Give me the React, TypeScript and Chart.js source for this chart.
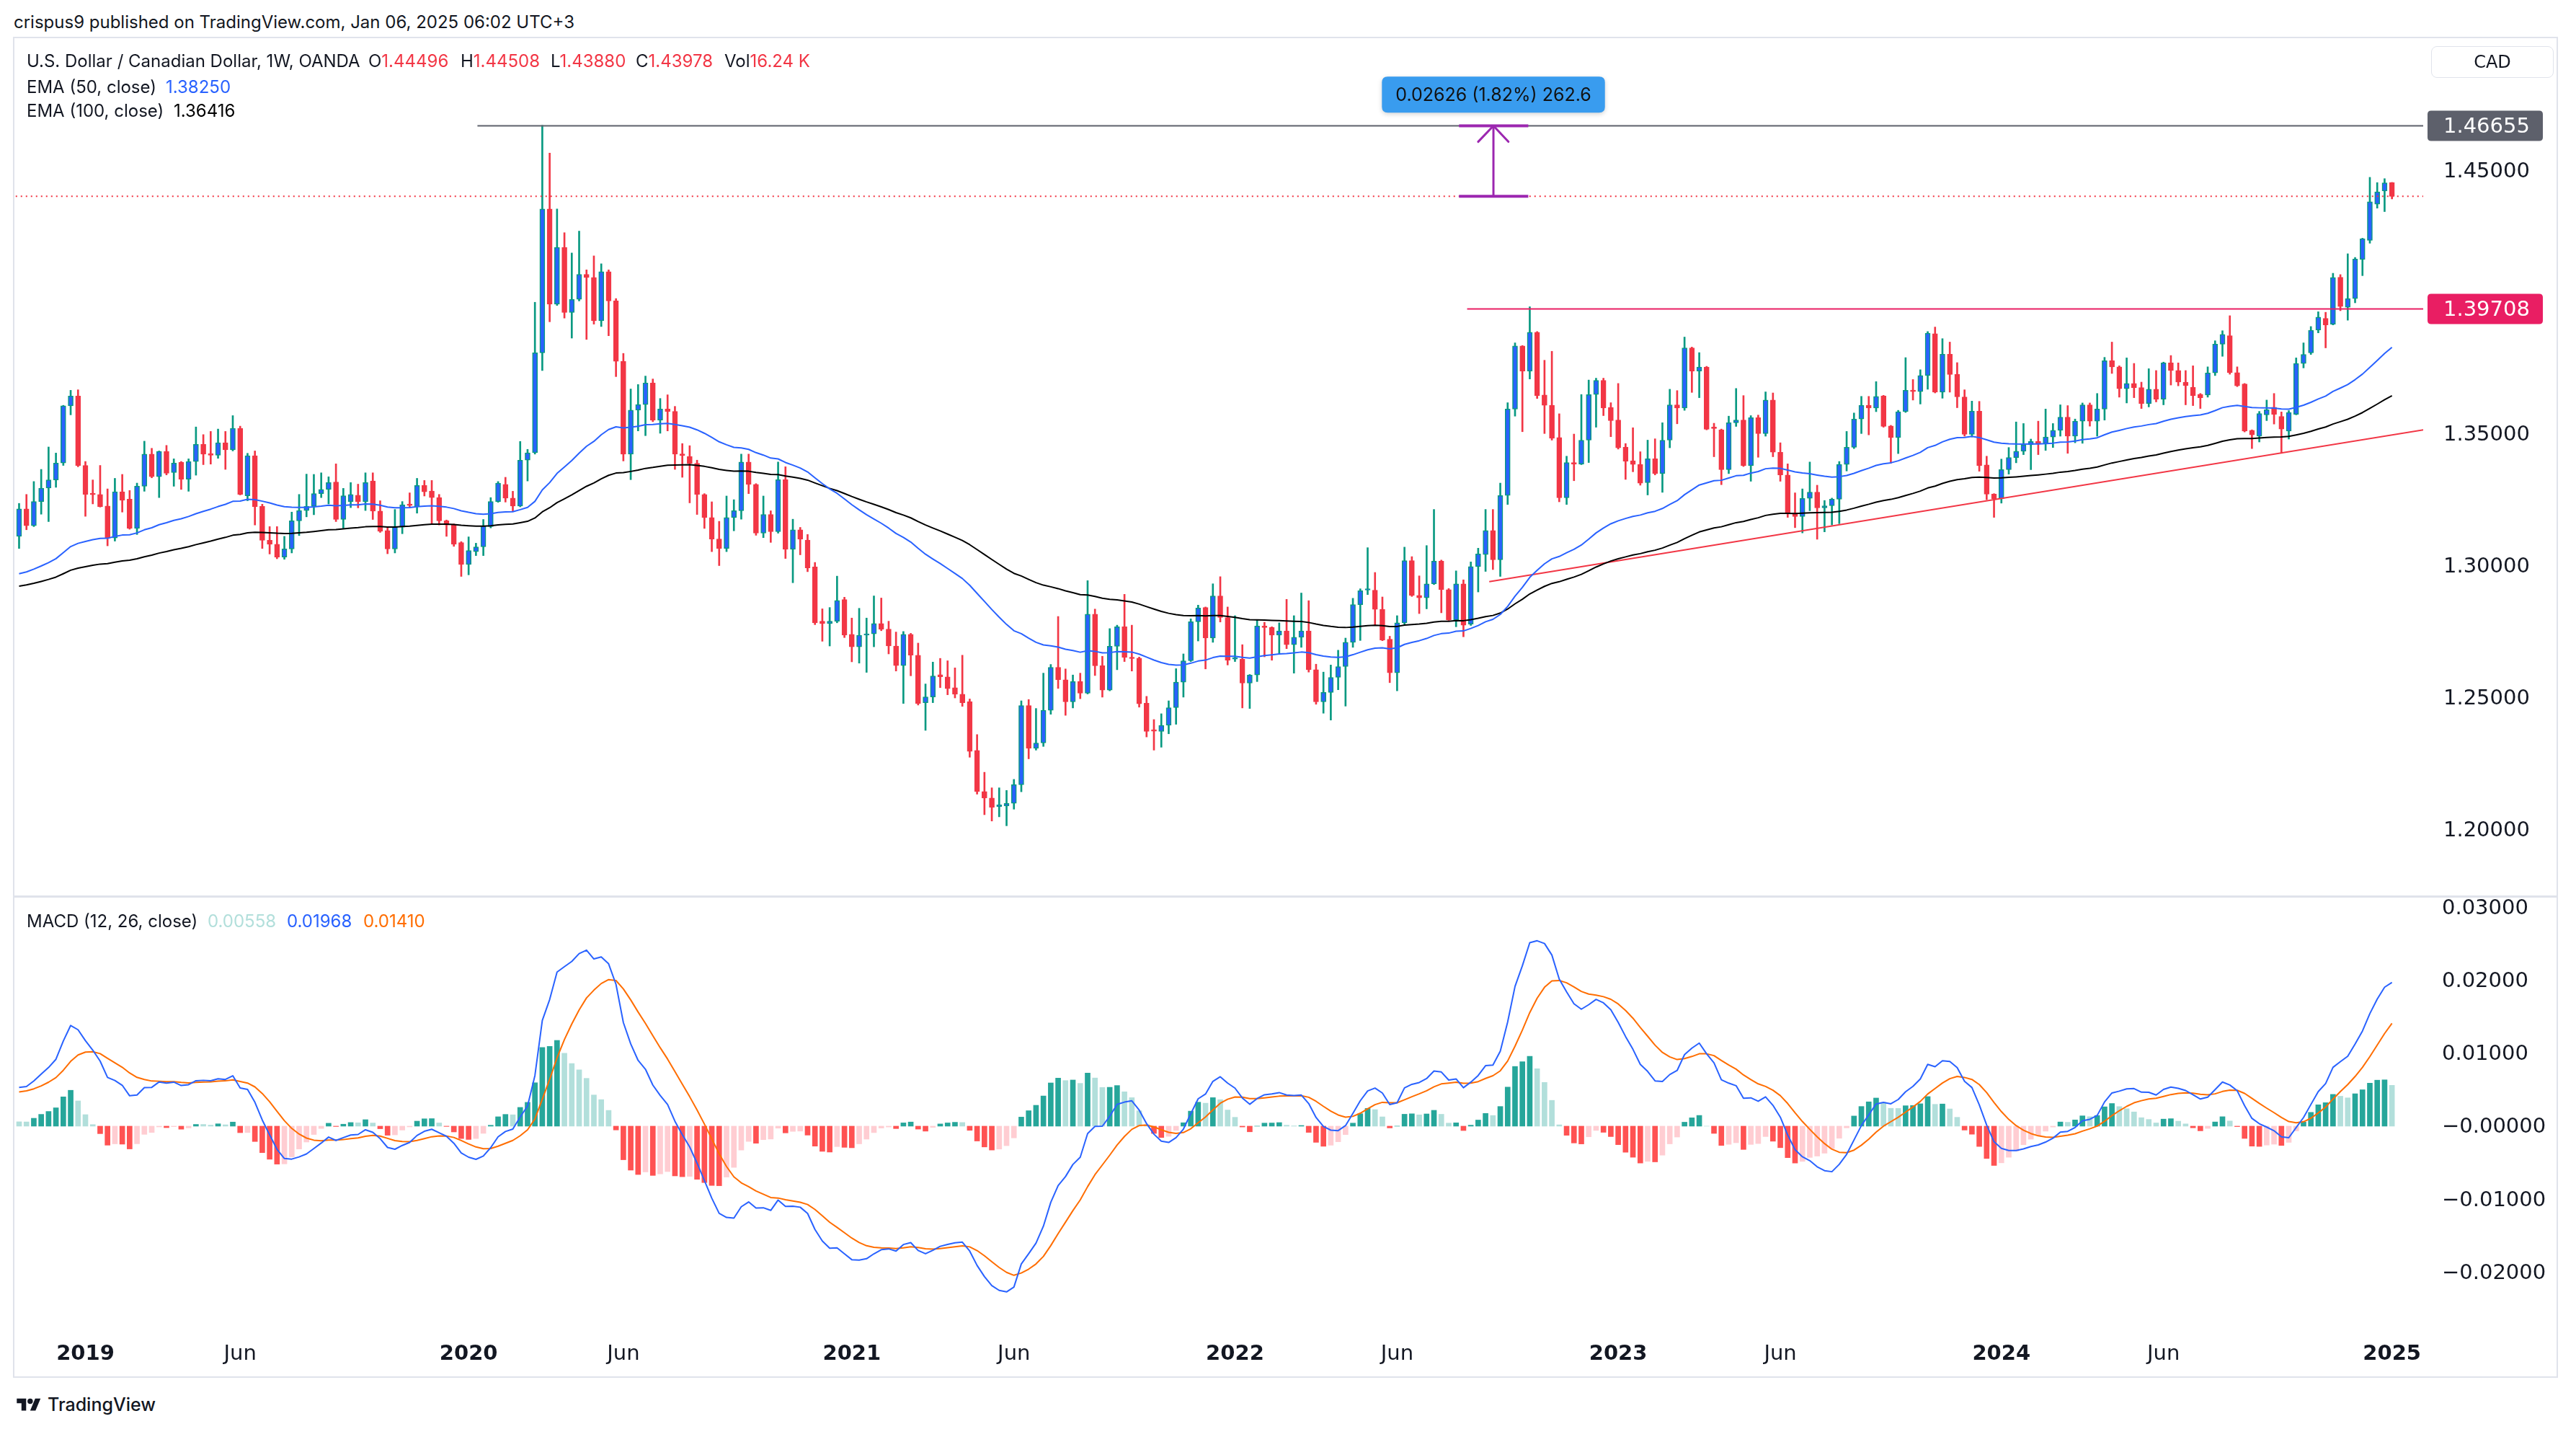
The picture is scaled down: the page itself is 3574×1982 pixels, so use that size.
import React, { useEffect, useRef } from 'react';
import { Chart, registerables } from 'chart.js';

Chart.register(...registerables);

// ---------- Weekly USD/CAD candles (OANDA), week of 2018-11-05 .. 2025-01-06 ----------
const OPEN = [
  1.3108,1.3212,1.3148,1.3240,1.3291,1.3322,1.3386,1.3603,1.3640,1.3377,
  1.3271,1.3267,1.3223,1.3102,1.3277,1.3249,1.3138,1.3298,1.3420,1.3334,
  1.3430,1.3350,1.3389,1.3325,1.3392,1.3457,1.3422,1.3416,1.3463,1.3436,
  1.3518,1.3262,1.3414,1.3222,1.3093,1.3078,1.3029,1.3060,1.3167,1.3206,
  1.3222,1.3270,1.3286,1.3314,1.3172,1.3240,1.3264,1.3240,1.3318,1.3204,
  1.3130,1.3060,1.3143,1.3230,1.3221,1.3301,1.3280,1.3255,1.3167,1.3151,
  1.3084,1.3001,1.3050,1.3068,1.3145,1.3240,1.3305,1.3253,1.3223,1.3397,
  1.3425,1.3804,1.4350,1.3989,1.4204,1.3957,1.4007,1.4102,1.4090,1.3926,
  1.4112,1.4001,1.3772,1.3420,1.3587,1.3608,1.3690,1.3549,1.3591,1.3582,
  1.3420,1.3411,1.3385,1.3267,1.3179,1.3098,1.3062,1.3179,1.3205,1.3390,
  1.3305,1.3120,1.3191,1.3126,1.3323,1.3059,1.3133,1.3094,1.2992,1.2786,
  1.2777,1.2786,1.2868,1.2736,1.2689,1.2733,1.2738,1.2777,1.2756,1.2692,
  1.2618,1.2736,1.2657,1.2477,1.2499,1.2583,1.2575,1.2534,1.2509,1.2481,
  1.2296,1.2140,1.2115,1.2083,1.2085,1.2095,1.2166,1.2466,1.2304,1.2324,
  1.2448,1.2611,1.2564,1.2480,1.2557,1.2513,1.2813,1.2617,1.2525,1.2691,
  1.2765,1.2649,1.2646,1.2475,1.2372,1.2368,1.2391,1.2458,1.2555,1.2636,
  1.2784,1.2838,1.2722,1.2882,1.2800,1.2642,1.2642,1.2551,1.2582,1.2768,
  1.2762,1.2733,1.2749,1.2697,1.2725,1.2749,1.2602,1.2480,1.2516,1.2573,
  1.2614,1.2706,1.2849,1.2904,1.2904,1.2831,1.2718,1.2590,1.2780,1.3016,
  1.2884,1.2875,1.2928,1.3014,1.2906,1.2791,1.2928,1.2775,1.2993,1.3039,
  1.3130,1.3019,1.3263,1.3591,1.3830,1.3735,1.3882,1.3644,1.3605,1.3483,
  1.3254,1.3388,1.3382,1.3473,1.3646,1.3700,1.3597,1.3549,1.3447,1.3395,
  1.3381,1.3312,1.3402,1.3346,1.3473,1.3607,1.3595,1.3823,1.3735,1.3750,
  1.3520,1.3512,1.3361,1.3539,1.3549,1.3376,1.3558,1.3498,1.3625,1.3427,
  1.3341,1.3197,1.3183,1.3252,1.3276,1.3216,1.3224,1.3249,1.3381,1.3446,
  1.3553,1.3605,1.3595,1.3641,1.3527,1.3483,1.3581,1.3662,1.3657,1.3718,
  1.3877,1.3655,1.3799,1.3723,1.3637,1.3495,1.3583,1.3379,1.3268,1.3250,
  1.3361,1.3407,1.3431,1.3455,1.3468,1.3461,1.3485,1.3510,1.3560,1.3488,
  1.3545,1.3607,1.3545,1.3591,1.3774,1.3751,1.3668,1.3688,1.3672,1.3612,
  1.3666,1.3628,1.3766,1.3737,1.3693,1.3674,1.3647,1.3644,1.3728,1.3837,
  1.3869,1.3729,1.3686,1.3510,1.3488,1.3569,1.3598,1.3563,1.3507,1.3571,
  1.3764,1.3804,1.3891,1.3935,1.3913,1.4091,1.3977,1.4010,1.4158,1.4231,
  1.4368,1.4418,1.44496
];
const HIGH = [
  1.3233,1.3267,1.3316,1.3362,1.3447,1.3424,1.3605,1.3662,1.3664,1.3392,
  1.3322,1.3377,1.3288,1.3328,1.3343,1.3282,1.3310,1.3469,1.3442,1.3432,
  1.3453,1.3402,1.3392,1.3402,1.3523,1.3494,1.3506,1.3515,1.3506,1.3566,
  1.3526,1.3423,1.3432,1.3230,1.3145,1.3145,1.3108,1.3200,1.3267,1.3344,
  1.3343,1.3349,1.3334,1.3383,1.3290,1.3312,1.3306,1.3349,1.3349,1.3243,
  1.3140,1.3210,1.3240,1.3273,1.3328,1.3320,1.3320,1.3267,1.3170,1.3155,
  1.3088,1.3106,1.3082,1.3172,1.3255,1.3316,1.3332,1.3279,1.3468,1.3438,
  1.3996,1.4667,1.4562,1.4350,1.4260,1.4183,1.4266,1.4119,1.4172,1.4142,
  1.4119,1.4010,1.3802,1.3667,1.3684,1.3716,1.3705,1.3631,1.3645,1.3601,
  1.3460,1.3452,1.3397,1.3270,1.3239,1.3165,1.3261,1.3247,1.3420,1.3420,
  1.3308,1.3261,1.3205,1.3390,1.3372,1.3173,1.3142,1.3115,1.3009,1.2833,
  1.2838,1.2957,1.2877,1.2798,1.2835,1.2798,1.2882,1.2874,1.2786,1.2745,
  1.2747,1.2740,1.2703,1.2548,1.2631,1.2645,1.2636,1.2609,1.2657,1.2491,
  1.2356,1.2213,1.2154,1.2154,1.2144,1.2186,1.2484,1.2489,1.2455,1.2589,
  1.2622,1.2804,1.2605,1.2582,1.2589,1.2940,1.2832,1.2653,1.2758,1.2771,
  1.2888,1.2771,1.2650,1.2501,1.2413,1.2435,1.2484,1.2606,1.2662,1.2795,
  1.2847,1.2840,1.2928,1.2955,1.2840,1.2807,1.2697,1.2584,1.2792,1.2782,
  1.2765,1.2780,1.2869,1.2807,1.2893,1.2864,1.2623,1.2593,1.2620,1.2676,
  1.2722,1.2873,1.2909,1.3065,1.2971,1.2878,1.2729,1.2807,1.3067,1.3031,
  1.2958,1.3073,1.3210,1.3018,1.2910,1.2977,1.2943,1.3011,1.3063,1.3210,
  1.3210,1.3310,1.3615,1.3842,1.3832,1.3979,1.3885,1.3776,1.3810,1.3573,
  1.3412,1.3496,1.3646,1.3701,1.3708,1.3708,1.3615,1.3688,1.3460,1.3520,
  1.3429,1.3473,1.3478,1.3539,1.3666,1.3661,1.3864,1.3826,1.3805,1.3753,
  1.3537,1.3515,1.3564,1.3669,1.3642,1.3566,1.3568,1.3656,1.3652,1.3463,
  1.3383,1.3273,1.3288,1.3390,1.3302,1.3244,1.3253,1.3392,1.3506,1.3576,
  1.3639,1.3639,1.3695,1.3643,1.3529,1.3586,1.3786,1.3703,1.3740,1.3885,
  1.3902,1.3858,1.3845,1.3767,1.3664,1.3621,1.3620,1.3412,1.3270,1.3401,
  1.3445,1.3542,1.3536,1.3477,1.3545,1.3591,1.3536,1.3607,1.3604,1.3553,
  1.3614,1.3614,1.3650,1.3787,1.3845,1.3755,1.3785,1.3764,1.3693,1.3744,
  1.3737,1.3769,1.3794,1.3766,1.3737,1.3755,1.3650,1.3751,1.3850,1.3888,
  1.3945,1.3751,1.3688,1.3512,1.3582,1.3625,1.3650,1.3580,1.3585,1.3785,
  1.3842,1.3904,1.3960,1.3958,1.4106,1.4101,1.4180,1.4166,1.4239,1.4470,
  1.4450,1.4465,1.44508
];
const LOW = [
  1.3062,1.3133,1.3145,1.3192,1.3164,1.3294,1.3377,1.3569,1.3372,1.3184,
  1.3231,1.3219,1.3072,1.3090,1.3200,1.3135,1.3115,1.3279,1.3330,1.3255,
  1.3341,1.3298,1.3286,1.3279,1.3340,1.3380,1.3382,1.3404,1.3362,1.3432,
  1.3265,1.3243,1.3151,1.3062,1.3041,1.3023,1.3021,1.3045,1.3111,1.3182,
  1.3190,1.3255,1.3231,1.3164,1.3139,1.3217,1.3216,1.3206,1.3172,1.3123,
  1.3042,1.3045,1.3118,1.3219,1.3196,1.3261,1.3157,1.3151,1.3108,1.3070,
  1.2956,1.2962,1.3035,1.3035,1.3140,1.3237,1.3238,1.3203,1.3220,1.3318,
  1.3420,1.3737,1.3922,1.3984,1.3936,1.3860,1.4001,1.3855,1.3913,1.3904,
  1.3869,1.3714,1.3394,1.3323,1.3508,1.3490,1.3543,1.3499,1.3508,1.3362,
  1.3332,1.3235,1.3191,1.3138,1.3050,1.2997,1.3050,1.3129,1.3173,1.3270,
  1.3112,1.3103,1.3085,1.3120,1.3024,1.2932,1.3038,1.2974,1.2773,1.2710,
  1.2692,1.2780,1.2724,1.2632,1.2627,1.2592,1.2689,1.2750,1.2662,1.2597,
  1.2474,1.2579,1.2468,1.2372,1.2477,1.2534,1.2507,1.2495,1.2463,1.2270,
  1.2130,1.2052,1.2028,1.2044,1.2010,1.2073,1.2139,1.2264,1.2297,1.2311,
  1.2433,1.2531,1.2429,1.2457,1.2492,1.2510,1.2580,1.2498,1.2522,1.2602,
  1.2633,1.2597,1.2460,1.2347,1.2297,1.2308,1.2359,1.2395,1.2498,1.2633,
  1.2711,1.2605,1.2706,1.2783,1.2620,1.2633,1.2457,1.2455,1.2557,1.2651,
  1.2638,1.2664,1.2682,1.2589,1.2687,1.2593,1.2471,1.2437,1.2411,1.2526,
  1.2464,1.2687,1.2713,1.2887,1.2771,1.2712,1.2553,1.2522,1.2775,1.2880,
  1.2815,1.2833,1.2925,1.2818,1.2789,1.2765,1.2727,1.2770,1.2897,1.2975,
  1.2982,1.2956,1.3229,1.3564,1.3505,1.3705,1.3631,1.3498,1.3473,1.3239,
  1.3229,1.3319,1.3380,1.3388,1.3522,1.3566,1.3486,1.3439,1.3324,1.3353,
  1.3302,1.3265,1.3341,1.3275,1.3444,1.3535,1.3586,1.3654,1.3634,1.3512,
  1.3410,1.3304,1.3346,1.3525,1.3373,1.3317,1.3408,1.3488,1.3410,1.3317,
  1.3180,1.3141,1.3121,1.3205,1.3097,1.3125,1.3151,1.3156,1.3356,1.3441,
  1.3498,1.3493,1.3581,1.3522,1.3385,1.3422,1.3578,1.3625,1.3610,1.3666,
  1.3652,1.3632,1.3655,1.3596,1.3488,1.3485,1.3355,1.3247,1.3180,1.3234,
  1.3344,1.3387,1.3418,1.3361,1.3418,1.3434,1.3445,1.3488,1.3423,1.3463,
  1.3461,1.3526,1.3488,1.3549,1.3726,1.3636,1.3614,1.3634,1.3593,1.3599,
  1.3618,1.3607,1.3682,1.3679,1.3607,1.3604,1.3593,1.3636,1.3718,1.3791,
  1.3723,1.3676,1.3504,1.3441,1.3466,1.3547,1.3534,1.3423,1.3477,1.3569,
  1.3747,1.3798,1.3880,1.3823,1.3910,1.3964,1.3928,1.3994,1.4097,1.4220,
  1.4353,1.4340,1.43880
];
const CLOSE = [
  1.3212,1.3148,1.3240,1.3291,1.3322,1.3386,1.3603,1.3640,1.3377,1.3267,
  1.3266,1.3221,1.3102,1.3277,1.3245,1.3138,1.3298,1.3420,1.3334,1.3430,
  1.3347,1.3386,1.3325,1.3392,1.3457,1.3420,1.3416,1.3463,1.3436,1.3518,
  1.3267,1.3414,1.3221,1.3093,1.3078,1.3029,1.3060,1.3167,1.3206,1.3222,
  1.3270,1.3286,1.3312,1.3172,1.3262,1.3267,1.3240,1.3312,1.3204,1.3127,
  1.3060,1.3143,1.3228,1.3225,1.3301,1.3277,1.3255,1.3167,1.3151,1.3078,
  1.3001,1.3054,1.3068,1.3148,1.3240,1.3310,1.3253,1.3223,1.3397,1.3425,
  1.3804,1.4350,1.3989,1.4204,1.3957,1.4007,1.4102,1.4090,1.3926,1.4112,
  1.4001,1.3772,1.3420,1.3587,1.3608,1.3690,1.3549,1.3591,1.3582,1.3420,
  1.3415,1.3385,1.3267,1.3179,1.3098,1.3062,1.3179,1.3205,1.3390,1.3305,
  1.3120,1.3191,1.3126,1.3323,1.3059,1.3133,1.3098,1.2988,1.2780,1.2777,
  1.2786,1.2865,1.2733,1.2689,1.2733,1.2738,1.2777,1.2756,1.2692,1.2618,
  1.2736,1.2657,1.2474,1.2499,1.2578,1.2575,1.2530,1.2509,1.2477,1.2292,
  1.2140,1.2115,1.2080,1.2089,1.2095,1.2166,1.2466,1.2304,1.2324,1.2448,
  1.2611,1.2564,1.2480,1.2557,1.2513,1.2813,1.2617,1.2525,1.2691,1.2765,
  1.2649,1.2644,1.2473,1.2368,1.2369,1.2391,1.2458,1.2555,1.2636,1.2784,
  1.2836,1.2722,1.2882,1.2800,1.2638,1.2645,1.2551,1.2582,1.2768,1.2762,
  1.2733,1.2749,1.2697,1.2725,1.2749,1.2602,1.2480,1.2516,1.2573,1.2614,
  1.2706,1.2849,1.2902,1.2906,1.2831,1.2715,1.2590,1.2780,1.3016,1.2884,
  1.2875,1.2928,1.3014,1.2906,1.2791,1.2928,1.2771,1.2993,1.3041,1.3130,
  1.3019,1.3263,1.3591,1.3830,1.3735,1.3882,1.3642,1.3605,1.3480,1.3254,
  1.3388,1.3382,1.3473,1.3646,1.3700,1.3595,1.3547,1.3444,1.3393,1.3381,
  1.3310,1.3402,1.3346,1.3473,1.3607,1.3595,1.3823,1.3735,1.3750,1.3514,
  1.3517,1.3361,1.3539,1.3549,1.3376,1.3558,1.3498,1.3625,1.3427,1.3341,
  1.3195,1.3183,1.3252,1.3276,1.3216,1.3224,1.3249,1.3381,1.3446,1.3553,
  1.3605,1.3595,1.3639,1.3525,1.3483,1.3581,1.3662,1.3657,1.3718,1.3879,
  1.3655,1.3799,1.3722,1.3637,1.3495,1.3583,1.3376,1.3268,1.3250,1.3361,
  1.3407,1.3431,1.3455,1.3468,1.3461,1.3485,1.3510,1.3560,1.3488,1.3545,
  1.3607,1.3545,1.3591,1.3774,1.3751,1.3668,1.3688,1.3672,1.3612,1.3666,
  1.3628,1.3766,1.3737,1.3693,1.3680,1.3642,1.3634,1.3728,1.3837,1.3874,
  1.3729,1.3679,1.3507,1.3493,1.3574,1.3588,1.3571,1.3515,1.3578,1.3764,
  1.3798,1.3890,1.3940,1.3910,1.4090,1.3980,1.4010,1.4160,1.4237,1.4377,
  1.4415,1.4449,1.43978
];

// Indicator starting values at the first visible week
const EMA50_START = 1.2966;
const EMA100_START = 1.2919;
const EMA12_START = 1.3083;
const EMA26_START = 1.3030;
const SIGNAL_START = 0.0047;

// Axis ticks
const PRICE_TICKS = [1.45, 1.35, 1.3, 1.25, 1.2];
const MACD_TICKS = [0.03, 0.02, 0.01, 0, -0.01, -0.02];
const TIME_TICK_INDEX = [9, 30, 61, 82, 113, 135, 165, 187, 217, 239, 269, 291, 322];
const TIME_TICK_LABELS = ['2019', 'Jun', '2020', 'Jun', '2021', 'Jun', '2022', 'Jun', '2023', 'Jun', '2024', 'Jun', '2025'];

// Drawings
const LEVEL_2020_HIGH = 1.46655;
const LEVEL_2022_HIGH = 1.39708;
const LAST_CLOSE = 1.43978;
const LEVEL_2020_FROM = 62.2;
const LEVEL_2022_FROM = 196.5;
const TREND_FROM = [199.5, 1.2936];
const TREND_TO = [326.3, 1.3512];
const MEASURE_AT = 200.07;
const MEASURE_CAP = [195.4, 204.8];
const MEASURE_HEAD = [[198.0, 1.4605], [200.07, 1.46655], [202.1, 1.4605]];
const MEASURE_LABEL_PRICE = 1.4784;
const MEASURE_TEXT = '0.02626 (1.82%) 262.6';

// View ranges
const X_MIN = -0.83;
const X_MAX = 326.24;
const PRICE_MIN = 1.17456;
const PRICE_MAX = 1.50005;
const MACD_MIN = -0.02787;
const MACD_MAX = 0.03142;

const UP_BODY = '#2962FF';
const UP_EDGE = '#089981';
const DOWN = '#F23645';
const TEXT = '#131722';
const AXIS_FONT = 'DejaVu Sans';

function ema(values: number[], period: number, start: number): number[] {
  const k = 2 / (period + 1);
  const out = [start];
  for (let i = 1; i < values.length; i++) out.push(out[i - 1] + k * (values[i] - out[i - 1]));
  return out;
}

function roundRect(ctx: CanvasRenderingContext2D, x: number, y: number, w: number, h: number, r: number) {
  ctx.beginPath();
  ctx.moveTo(x + r, y);
  ctx.lineTo(x + w - r, y);
  ctx.quadraticCurveTo(x + w, y, x + w, y + r);
  ctx.lineTo(x + w, y + h - r);
  ctx.quadraticCurveTo(x + w, y + h, x + w - r, y + h);
  ctx.lineTo(x + r, y + h);
  ctx.quadraticCurveTo(x, y + h, x, y + h - r);
  ctx.lineTo(x, y + r);
  ctx.quadraticCurveTo(x, y, x + r, y);
  ctx.closePath();
}

const seg = (pts: number[][], color: string, width: number, order: number, dash: number[] = [], cap: CanvasLineCap = 'butt') => ({
  type: 'line' as const,
  data: pts.map(([x, y]) => ({ x, y })),
  borderColor: color,
  borderWidth: width,
  borderDash: dash,
  borderCapStyle: cap,
  borderJoinStyle: 'round' as const,
  pointRadius: 0,
  tension: 0,
  fill: false,
  order,
});

function Txt(props: { x: number; y: number; size?: number; color?: string; family?: string; weight?: number | string; children: any }) {
  const size = props.size ?? 24;
  return (
    <div
      style={{
        position: 'absolute',
        left: props.x,
        top: props.y - size * 0.6,
        fontSize: size,
        lineHeight: `${size * 1.2}px`,
        fontFamily: props.family ?? 'Inter',
        fontWeight: props.weight ?? 400,
        color: props.color ?? TEXT,
        whiteSpace: 'pre',
      }}
    >
      {props.children}
    </div>
  );
}

export default function App() {
  const priceRef = useRef<HTMLCanvasElement>(null);
  const macdRef = useRef<HTMLCanvasElement>(null);

  useEffect(() => {
    document.body.style.margin = '0';
    document.body.style.overflow = 'hidden';

    const idx = CLOSE.map((_, i) => i);
    const up = (i: number) => CLOSE[i] >= OPEN[i];
    const ema50 = ema(CLOSE, 50, EMA50_START);
    const ema100 = ema(CLOSE, 100, EMA100_START);
    const e12 = ema(CLOSE, 12, EMA12_START);
    const e26 = ema(CLOSE, 26, EMA26_START);
    const macd = e12.map((v, i) => v - e26[i]);
    const signal = ema(macd, 9, SIGNAL_START);
    const hist = macd.map((v, i) => v - signal[i]);
    const histColor = hist.map((h, i) => {
      const prev = i > 0 ? hist[i - 1] : h;
      if (h >= 0) return prev < h ? '#26A69A' : '#B2DFDB';
      return prev < h ? '#FFCDD2' : '#FF5252';
    });

    const priceLabels = {
      id: 'priceLabels',
      afterDraw(chart: any) {
        const { ctx, chartArea, scales } = chart;
        const items = [
          { v: LEVEL_2020_HIGH, c: '#5D606B' },
          { v: LEVEL_2022_HIGH, c: '#E91E63' },
        ];
        ctx.save();
        for (const it of items) {
          const py = scales.y.getPixelForValue(it.v);
          ctx.fillStyle = it.c;
          roundRect(ctx, chartArea.right + 6, py - 21, 160, 42, 5);
          ctx.fill();
          ctx.fillStyle = '#FFFFFF';
          ctx.font = `29px "${AXIS_FONT}"`;
          ctx.textAlign = 'left';
          ctx.textBaseline = 'middle';
          ctx.fillText(it.v.toFixed(5), chartArea.right + 28, py + 2);
        }
        ctx.restore();
      },
    };

    const measureLabel = {
      id: 'measureLabel',
      afterDatasetsDraw(chart: any) {
        const { ctx, scales } = chart;
        const cx = scales.x.getPixelForValue(MEASURE_AT);
        const cy = scales.y.getPixelForValue(MEASURE_LABEL_PRICE);
        ctx.save();
        ctx.font = '25px Inter';
        const w = ctx.measureText(MEASURE_TEXT).width + 38;
        const h = 50;
        ctx.shadowColor = 'rgba(0,0,0,0.18)';
        ctx.shadowBlur = 6;
        ctx.shadowOffsetY = 2;
        ctx.fillStyle = '#399CEF';
        roundRect(ctx, cx - w / 2, cy - h / 2, w, h, 8);
        ctx.fill();
        ctx.shadowColor = 'transparent';
        ctx.fillStyle = '#111111';
        ctx.textAlign = 'center';
        ctx.textBaseline = 'middle';
        ctx.fillText(MEASURE_TEXT, cx, cy + 1);
        ctx.restore();
      },
    };

    const priceChart = new Chart(priceRef.current as HTMLCanvasElement, {
      type: 'bar',
      data: {
        datasets: [
          seg([[MEASURE_CAP[0], LEVEL_2020_HIGH], [MEASURE_CAP[1], LEVEL_2020_HIGH]], '#9C27B0', 4, 0),
          seg([[MEASURE_CAP[0], LAST_CLOSE], [MEASURE_CAP[1], LAST_CLOSE]], '#9C27B0', 4, 0),
          seg([[MEASURE_AT, LAST_CLOSE], [MEASURE_AT, LEVEL_2020_HIGH]], '#9C27B0', 3, 0),
          seg(MEASURE_HEAD, '#9C27B0', 3, 0, [], 'round'),
          seg(idx.map((i) => [i, ema50[i]]), '#2962FF', 2, 1),
          seg(idx.map((i) => [i, ema100[i]]), '#000000', 2, 2),
          seg([[LEVEL_2020_FROM, LEVEL_2020_HIGH], [X_MAX + 1, LEVEL_2020_HIGH]], '#5D606B', 2, 3),
          seg([[LEVEL_2022_FROM, LEVEL_2022_HIGH], [X_MAX + 1, LEVEL_2022_HIGH]], '#E91E63', 2, 3),
          seg([TREND_FROM, TREND_TO], '#F23645', 2, 3),
          seg([[X_MIN - 1, LAST_CLOSE], [X_MAX + 1, LAST_CLOSE]], '#F23645', 2, 4, [2, 5]),
          {
            type: 'bar',
            data: idx.map((i) => ({ x: i, y: [OPEN[i], CLOSE[i]] })),
            backgroundColor: idx.map((i) => (up(i) ? UP_BODY : DOWN)),
            borderColor: idx.map((i) => (up(i) ? UP_EDGE : DOWN)),
            borderWidth: 1.5,
            borderSkipped: false,
            barThickness: 7,
            minBarLength: 2,
            grouped: false,
            order: 5,
          },
          {
            type: 'bar',
            data: idx.map((i) => ({ x: i, y: [LOW[i], HIGH[i]] })),
            backgroundColor: idx.map((i) => (up(i) ? UP_EDGE : DOWN)),
            borderWidth: 0,
            barThickness: 2,
            grouped: false,
            order: 6,
          },
        ] as any,
      },
      options: {
        animation: false,
        responsive: false,
        devicePixelRatio: 1,
        events: [],
        layout: { padding: 0 },
        plugins: { legend: { display: false }, tooltip: { enabled: false } },
        scales: {
          x: { type: 'linear', display: false, min: X_MIN, max: X_MAX, offset: false, grid: { display: false } },
          y: {
            type: 'linear',
            position: 'right',
            min: PRICE_MIN,
            max: PRICE_MAX,
            grid: { display: false, drawTicks: false },
            border: { display: false },
            afterBuildTicks: (s: any) => {
              s.ticks = PRICE_TICKS.map((v) => ({ value: v }));
            },
            afterFit: (s: any) => {
              s.width = 187;
              s.paddingTop = 0;
              s.paddingBottom = 0;
            },
            ticks: {
              padding: 28,
              labelOffset: 3,
              color: TEXT,
              font: { family: AXIS_FONT, size: 29 },
              callback: (v: any) => Number(v).toFixed(5),
            },
          },
        },
      } as any,
      plugins: [priceLabels, measureLabel],
    });

    const macdChart = new Chart(macdRef.current as HTMLCanvasElement, {
      type: 'bar',
      data: {
        datasets: [
          seg(idx.map((i) => [i, macd[i]]), '#2962FF', 2, 0),
          seg(idx.map((i) => [i, signal[i]]), '#FF6D00', 2, 1),
          {
            type: 'bar',
            data: idx.map((i) => ({ x: i, y: hist[i] })),
            backgroundColor: histColor,
            borderWidth: 0,
            barThickness: 7,
            grouped: false,
            order: 2,
          },
        ] as any,
      },
      options: {
        animation: false,
        responsive: false,
        devicePixelRatio: 1,
        events: [],
        layout: { padding: 0 },
        plugins: { legend: { display: false }, tooltip: { enabled: false } },
        scales: {
          x: {
            type: 'linear',
            position: 'bottom',
            min: X_MIN,
            max: X_MAX,
            offset: false,
            grid: { display: false, drawTicks: false },
            border: { display: false },
            afterBuildTicks: (s: any) => {
              s.ticks = TIME_TICK_INDEX.map((v) => ({ value: v }));
            },
            afterFit: (s: any) => {
              s.height = 66;
              s.paddingLeft = 0;
              s.paddingRight = 0;
            },
            ticks: {
              autoSkip: false,
              maxRotation: 0,
              minRotation: 0,
              padding: 17,
              color: TEXT,
              font: (c: any) => ({
                family: AXIS_FONT,
                size: 29,
                weight: /^\d/.test(TIME_TICK_LABELS[c.index] || '') ? 'bold' : 'normal',
              }),
              callback: (_v: any, i: number) => TIME_TICK_LABELS[i],
            },
          },
          y: {
            type: 'linear',
            position: 'right',
            min: MACD_MIN,
            max: MACD_MAX,
            grid: { display: false, drawTicks: false },
            border: { display: false },
            afterBuildTicks: (s: any) => {
              s.ticks = MACD_TICKS.map((v) => ({ value: v }));
            },
            afterFit: (s: any) => {
              s.width = 187;
              s.paddingTop = 0;
              s.paddingBottom = 0;
            },
            ticks: {
              padding: 26,
              labelOffset: 2,
              color: TEXT,
              font: { family: AXIS_FONT, size: 29 },
              callback: (v: any) => {
                const n = Number(v);
                if (Math.abs(n) < 1e-9) return '\u22120.00000';
                return n < 0 ? '\u2212' + Math.abs(n).toFixed(5) : n.toFixed(5);
              },
            },
          },
        },
      } as any,
    });

    return () => {
      priceChart.destroy();
      macdChart.destroy();
    };
  }, []);

  const line = (l: number, t: number, w: number, h: number) => (
    <div style={{ position: 'absolute', left: l, top: t, width: w, height: h, background: '#E0E3EB' }} />
  );

  return (
    <div style={{ position: 'absolute', left: 0, top: 0, width: 3574, height: 1982, background: '#FFFFFF', overflow: 'hidden' }}>
      {line(18, 51, 3531, 2)}
      {line(18, 51, 2, 1860)}
      {line(3547, 51, 2, 1860)}
      {line(18, 1909, 3531, 2)}
      {line(18, 1242, 3531, 3)}

      <canvas ref={priceRef} width={3531} height={1190} style={{ position: 'absolute', left: 18, top: 52, width: 3531, height: 1190 }} />
      <canvas ref={macdRef} width={3531} height={666} style={{ position: 'absolute', left: 18, top: 1244, width: 3531, height: 666 }} />

      <Txt x={19} y={31}>crispus9 published on TradingView.com, Jan 06, 2025 06:02 UTC+3</Txt>

      <Txt x={37} y={85}>U.S. Dollar / Canadian Dollar, 1W, OANDA</Txt>
      <Txt x={511} y={85}>O<span style={{ color: DOWN }}>1.44496</span></Txt>
      <Txt x={639} y={85}>H<span style={{ color: DOWN }}>1.44508</span></Txt>
      <Txt x={764} y={85}>L<span style={{ color: DOWN }}>1.43880</span></Txt>
      <Txt x={882} y={85}>C<span style={{ color: DOWN }}>1.43978</span></Txt>
      <Txt x={1005} y={85}>Vol<span style={{ color: DOWN }}>16.24 K</span></Txt>

      <Txt x={37} y={121}>EMA (50, close)</Txt>
      <Txt x={230} y={121} color="#2962FF">1.38250</Txt>
      <Txt x={37} y={154}>EMA (100, close)</Txt>
      <Txt x={241} y={154} color="#000000">1.36416</Txt>

      <Txt x={37} y={1278}>MACD (12, 26, close)</Txt>
      <Txt x={288} y={1278} color="#B2DFDB">0.00558</Txt>
      <Txt x={398} y={1278} color="#2962FF">0.01968</Txt>
      <Txt x={504} y={1278} color="#FF6D00">0.01410</Txt>

      <div
        style={{
          position: 'absolute',
          left: 3373,
          top: 64,
          width: 170,
          height: 44,
          border: '1.5px solid #E0E3EB',
          borderRadius: 8,
          boxSizing: 'border-box',
          display: 'flex',
          alignItems: 'center',
          justifyContent: 'center',
          fontFamily: AXIS_FONT,
          fontSize: 24,
          color: TEXT,
        }}
      >
        CAD
      </div>

      <svg style={{ position: 'absolute', left: 21, top: 1936 }} width={38} height={26} viewBox="0 0 36 28">
        <path d="M14 22H7V11H0V4h14v18z" fill="#131722" />
        <circle cx="20" cy="8" r="4" fill="#131722" />
        <path d="M28 22h-8l7.5-18h8L28 22z" fill="#131722" />
      </svg>
      <Txt x={66} y={1948} size={25} weight={500}>TradingView</Txt>
    </div>
  );
}
